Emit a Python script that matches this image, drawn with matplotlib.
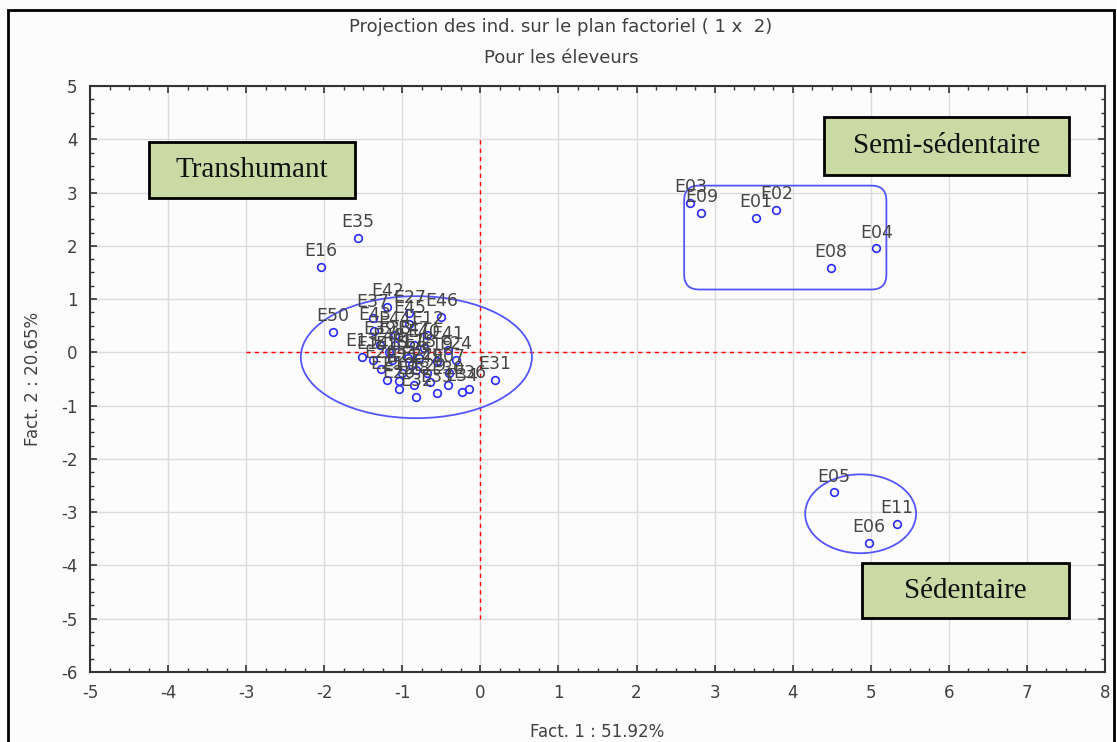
import matplotlib
matplotlib.use("Agg")
import matplotlib.pyplot as plt
from matplotlib.patches import Ellipse, FancyBboxPatch, Rectangle
from matplotlib.ticker import MultipleLocator

# ---- data ----
trans_labels = ["E35", "E16", "E50", "E42", "E37", "E27", "E45", "E46", "E12", "E13",
                "E14", "E15", "E17", "E18", "E19", "E24", "E20", "E21", "E22", "E23",
                "E25", "E26", "E28", "E29", "E30", "E32", "E33", "E34", "E36", "E31",
                "E38", "E39", "E40", "E41", "E43", "E44", "E47", "E48", "E49", "E07", "E10"]
trans_x = [-1.57, -2.04, -1.89, -1.19, -1.38, -0.91, -0.91, -0.50, -0.68, -1.52,
           -1.38, -1.13, -0.93, -0.78, -0.56, -0.31, -1.27, -1.00, -0.82, -0.88,
           -1.20, -1.04, -0.85, -0.65, -0.42, -0.82, -0.56, -0.24, -0.14, 0.19,
           -1.10, -1.29, -0.72, -0.42, -1.36, -1.10, -0.85, -1.17, -0.69, -0.40, -1.04]
trans_y = [2.14, 1.61, 0.39, 0.86, 0.64, 0.73, 0.53, 0.66, 0.32, -0.08,
           -0.15, -0.15, -0.11, -0.11, -0.17, -0.15, -0.32, -0.38, -0.34, -0.23,
           -0.51, -0.68, -0.62, -0.56, -0.62, -0.83, -0.77, -0.75, -0.68, -0.51,
           0.13, 0.13, 0.08, 0.04, 0.41, 0.32, 0.13, 0.00, -0.38, -0.38, -0.53]

semi_labels = ["E03", "E09", "E01", "E02", "E08", "E04"]
semi_x = [2.69, 2.83, 3.53, 3.79, 4.49, 5.07]
semi_y = [2.80, 2.61, 2.53, 2.68, 1.59, 1.95]

sed_labels = ["E05", "E11", "E06"]
sed_x = [4.53, 5.33, 4.98]
sed_y = [-2.63, -3.23, -3.58]

x_ticks = [-5, -4, -3, -2, -1, 0, 1, 2, 3, 4, 5, 6, 7, 8]
y_ticks = [-6, -5, -4, -3, -2, -1, 0, 1, 2, 3, 4, 5]

title1 = "Projection des ind. sur le plan factoriel ( 1 x  2)"
title2 = "Pour les éleveurs"
xlabel = "Fact. 1 : 51.92%"
ylabel = "Fact. 2 : 20.65%"
group_names = ["Transhumant", "Semi-sédentaire", "Sédentaire"]

# ---- figure ----
W, H = 1117, 742
plt.rcParams["font.family"] = ["DejaVu Sans"]
plt.rcParams["axes.unicode_minus"] = False
fig = plt.figure(figsize=(W / 100, H / 100), dpi=100, facecolor="#fcfcfc")

ax = fig.add_axes([90 / W, 1 - 672 / H, (1105 - 90) / W, (672 - 86) / H])
ax.set_facecolor("#fcfcfc")
ax.set_xlim(-5, 8)
ax.set_ylim(-6, 5)
ax.set_xticks(x_ticks)
ax.set_yticks(y_ticks)
ax.xaxis.set_minor_locator(MultipleLocator(0.25))
ax.yaxis.set_minor_locator(MultipleLocator(0.25))
ax.tick_params(which="both", direction="in", top=True, right=True, color="#333333")
ax.tick_params(which="major", length=5, width=1.2, labelsize=12, labelcolor="#404040", pad=9)
ax.tick_params(which="minor", length=3, width=1.0)
ax.grid(True, which="major", color="#dcdce0", lw=1.0)
ax.set_axisbelow(True)
for s in ax.spines.values():
    s.set_color("#333333")
    s.set_linewidth(1.5)

ax.set_xlabel(xlabel, fontsize=12, color="#404040", labelpad=15)
ax.set_ylabel(ylabel, fontsize=12, color="#404040", labelpad=14)

# red dashed reference lines
ax.plot([-3, 7], [0, 0], color="red", lw=1.0, dashes=(3, 3), zorder=2)
ax.plot([0, 0], [-5, 4], color="red", lw=1.0, dashes=(3, 3), zorder=2)

blue = "#2a2aff"
all_x = trans_x + semi_x + sed_x
all_y = trans_y + semi_y + sed_y
all_l = trans_labels + semi_labels + sed_labels
ax.plot(all_x, all_y, linestyle="none", marker="o", markersize=5.5, markerfacecolor="none",
        markeredgecolor=blue, markeredgewidth=1.2, zorder=4)
for xv, yv, lab in zip(all_x, all_y, all_l):
    ax.annotate(lab, (xv, yv), xytext=(0, 5), textcoords="offset points",
                ha="center", va="bottom", fontsize=12.5, color="#454545", zorder=5)

# group outlines
ecol = "#5555ff"
ax.add_patch(Ellipse((-0.82, -0.09), 2.96, 2.29, fill=False, edgecolor=ecol, lw=1.3, zorder=3))
ax.add_patch(Ellipse((4.87, -3.03), 1.42, 1.48, fill=False, edgecolor=ecol, lw=1.3, zorder=3))
ax.add_patch(FancyBboxPatch((2.61, 1.18), 5.20 - 2.61, 3.13 - 1.18,
                            boxstyle="round,pad=0,rounding_size=0.19",
                            mutation_aspect=78.1 / 53.3,
                            fill=False, edgecolor=ecol, lw=1.3, zorder=3))

# titles
fig.text(561 / W, 1 - 27 / H, title1, ha="center", va="center", fontsize=13, color="#404040")
fig.text(561 / W, 1 - 58 / H, title2, ha="center", va="center", fontsize=13, color="#404040")

# group label boxes (pixel boxes)
boxes = [(149, 142, 355, 198), (824, 117, 1069, 175), (862, 563, 1069, 618)]
for (x0, y0, x1, y1), name in zip(boxes, group_names):
    fig.add_artist(Rectangle((x0 / W, 1 - y1 / H), (x1 - x0) / W, (y1 - y0) / H,
                             transform=fig.transFigure, facecolor="#c9daa5",
                             edgecolor="black", lw=2.0, zorder=6))
    fig.text((x0 + x1) / 2 / W, 1 - (y0 + y1) / 2 / H, name, ha="center", va="center",
             fontsize=21, family=["Liberation Serif", "DejaVu Serif"], color="#111111", zorder=7)

# outer frame
fig.add_artist(Rectangle((8 / W, -0.02), (1114 - 8) / W, 1 - 10 / H + 0.02,
                         transform=fig.transFigure, fill=False, edgecolor="black", lw=2.0))

fig.savefig("out.png", dpi=100, facecolor=fig.get_facecolor())
